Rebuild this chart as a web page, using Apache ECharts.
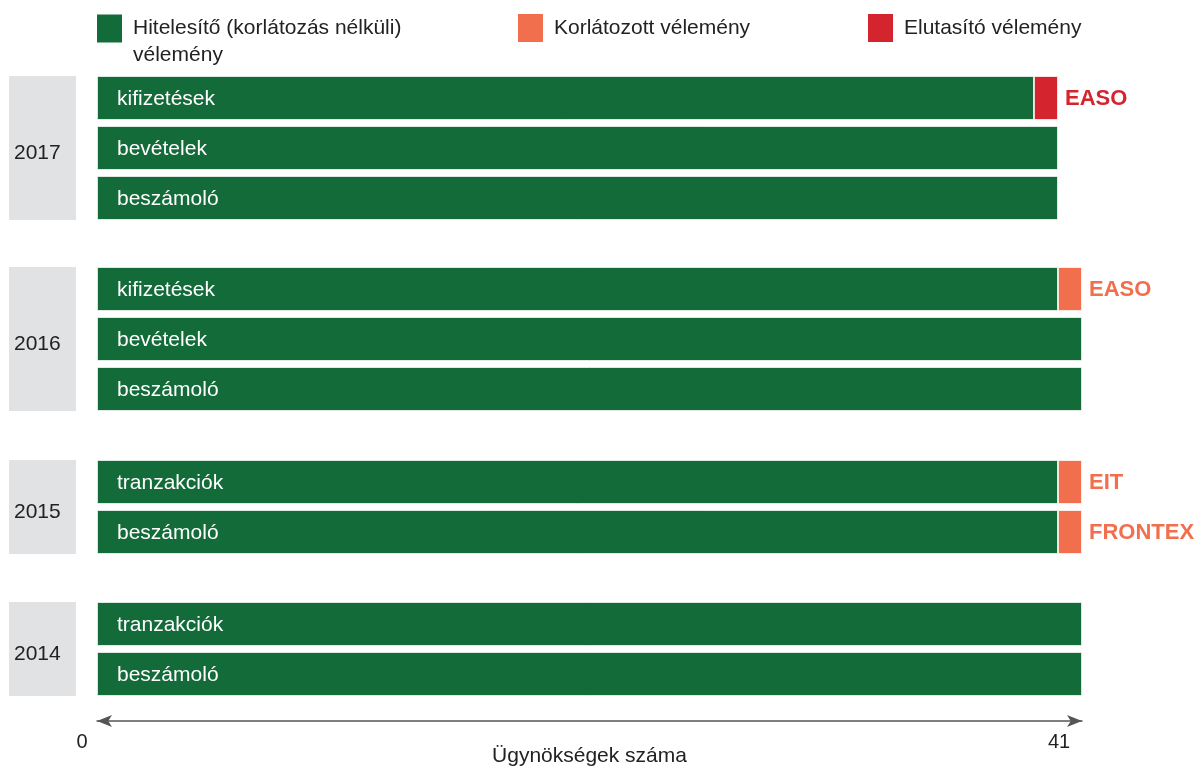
<!DOCTYPE html>
<html>
<head>
<meta charset="utf-8">
<script src="https://cdn.jsdelivr.net/npm/echarts@6/dist/echarts.min.js"></script>
<style>
html,body{margin:0;padding:0;background:#fff;}
#chart{width:1196px;height:767px;}
</style>
</head>
<body>
<div id="chart"></div>
<script>
// ---- data ----
const seriesNames = ['Hitelesítő (korlátozás nélküli) vélemény', 'Korlátozott vélemény', 'Elutasító vélemény'];
const years = ['2017', '2016', '2015', '2014'];

const categories2017 = ['kifizetések', 'bevételek', 'beszámoló'];
const unqualified2017 = [39, 40, 40];
const qualified2017 = [0, 0, 0];
const adverse2017 = [1, 0, 0];
const agencies2017 = ['EASO', '', ''];

const categories2016 = ['kifizetések', 'bevételek', 'beszámoló'];
const unqualified2016 = [40, 41, 41];
const qualified2016 = [1, 0, 0];
const adverse2016 = [0, 0, 0];
const agencies2016 = ['EASO', '', ''];

const categories2015 = ['tranzakciók', 'beszámoló'];
const unqualified2015 = [40, 40];
const qualified2015 = [1, 1];
const adverse2015 = [0, 0];
const agencies2015 = ['EIT', 'FRONTEX'];

const categories2014 = ['tranzakciók', 'beszámoló'];
const unqualified2014 = [41, 41];
const qualified2014 = [0, 0];
const adverse2014 = [0, 0];
const agencies2014 = ['', ''];

const axisMin = 0;
const axisMax = 41;
const axisName = 'Ügynökségek száma';

// ---- layout / style ----
const FONT = "'Liberation Sans', Arial, sans-serif";
const GREEN = '#146b3a', ORANGE = '#f26f4e', RED = '#d4252f', GRAY = '#e1e2e4', TEXT = '#222';
const FS = 21;
const SLOT = 50, BAR = 44, LEFT = 97, RIGHT = 114;
const gridTops = [73, 264, 457, 599];

const groups = [
  { year: years[0], cats: categories2017, vals: [unqualified2017, qualified2017, adverse2017], agencies: agencies2017 },
  { year: years[1], cats: categories2016, vals: [unqualified2016, qualified2016, adverse2016], agencies: agencies2016 },
  { year: years[2], cats: categories2015, vals: [unqualified2015, qualified2015, adverse2015], agencies: agencies2015 },
  { year: years[3], cats: categories2014, vals: [unqualified2014, qualified2014, adverse2014], agencies: agencies2014 }
];
const colors = [GREEN, ORANGE, RED];

const grid = [], xAxis = [], yAxis = [], series = [];
groups.forEach((g, i) => {
  const h = g.cats.length * SLOT;
  grid.push({ left: LEFT, right: RIGHT, top: gridTops[i], height: h, containLabel: false, outerBoundsMode: 'none' });
  const last = i === groups.length - 1;
  xAxis.push({
    gridIndex: i, type: 'value', min: axisMin, max: axisMax, interval: axisMax - axisMin,
    show: last,
    offset: 22,
    axisLine: { show: true, symbol: ['arrow', 'arrow'], symbolSize: [9, 15], lineStyle: { color: '#555', width: 1.5 } },
    axisTick: { show: false },
    splitLine: { show: false },
    axisLabel: {
      color: TEXT, fontFamily: FONT, fontSize: 20, margin: 11,
      formatter: v => (v === axisMin ? '{a|' : '{b|') + v + '}',
      rich: {
        a: { fontSize: 20, color: TEXT, fontFamily: FONT, padding: [0, 30, 0, 0] },
        b: { fontSize: 20, color: TEXT, fontFamily: FONT, padding: [0, 46, 0, 0] }
      }
    },
    name: axisName, nameLocation: 'middle', nameGap: 25, nameMoveOverlap: false,
    nameTextStyle: { fontSize: FS, color: TEXT, fontFamily: FONT }
  });
  yAxis.push({
    gridIndex: i, type: 'category', data: g.cats, inverse: true,
    axisLine: { show: false }, axisTick: { show: false }, axisLabel: { show: false }, splitLine: { show: false }
  });
  const bh = h - (SLOT - BAR);
  yAxis.push({
    gridIndex: i, type: 'category', data: [g.year], position: 'left', offset: 0,
    axisLine: { show: false }, axisTick: { show: false }, splitLine: { show: false },
    axisLabel: {
      margin: 21,
      formatter: v => '{y|' + v + '}',
      rich: { y: { width: 62, height: bh - 10, lineHeight: bh - 10, padding: [10, 0, 0, 5], backgroundColor: GRAY, align: 'left', verticalAlign: 'middle', fontSize: FS, color: TEXT, fontFamily: FONT } }
    }
  });
  g.vals.forEach((arr, k) => {
    const s = {
      type: 'bar', name: seriesNames[k], xAxisIndex: i, yAxisIndex: 2 * i, stack: 'g' + i,
      barWidth: BAR,
      data: arr.map(v => v === 0 ? '-' : v),
      itemStyle: { color: colors[k], borderColor: '#ffffff', borderWidth: 0.8 },
      emphasis: { disabled: true }
    };
    if (k === 0) {
      s.label = { show: true, position: 'insideLeft', distance: 20, offset: [0, 1], formatter: p => p.name, color: '#fff', fontSize: FS, fontFamily: FONT };
    } else {
      s.label = { show: true, position: 'right', distance: 7, offset: [0, 1], formatter: p => g.agencies[p.dataIndex], color: colors[k], fontSize: 22, fontWeight: 'bold', fontFamily: FONT };
    }
    series.push(s);
  });
});

const legendBase = {
  orient: 'horizontal', itemWidth: 25, itemHeight: 28, padding: 0,
  selectedMode: false, icon: 'rect', itemStyle: { borderWidth: 0 }
};
const legend = [
  Object.assign({}, legendBase, {
    left: 97, top: -12, data: [seriesNames[0]],
    formatter: n => '\nHitelesítő (korlátozás nélküli)\nvélemény',
    textStyle: { fontSize: FS, color: TEXT, fontFamily: FONT, lineHeight: 27, padding: [0, 0, 0, 6] }
  }),
  Object.assign({}, legendBase, {
    left: 518, top: 14, data: [seriesNames[1]],
    textStyle: { fontSize: FS, color: TEXT, fontFamily: FONT, padding: [0, 0, 0, 6] }
  }),
  Object.assign({}, legendBase, {
    left: 868, top: 14, data: [seriesNames[2]],
    textStyle: { fontSize: FS, color: TEXT, fontFamily: FONT, padding: [0, 0, 0, 6] }
  })
];

const chart = echarts.init(document.getElementById('chart'), null, { renderer: 'canvas' });
chart.setOption({
  animation: false,
  backgroundColor: '#fff',
  textStyle: { fontFamily: FONT },
  legend, grid, xAxis, yAxis, series
});
</script>
</body>
</html>
